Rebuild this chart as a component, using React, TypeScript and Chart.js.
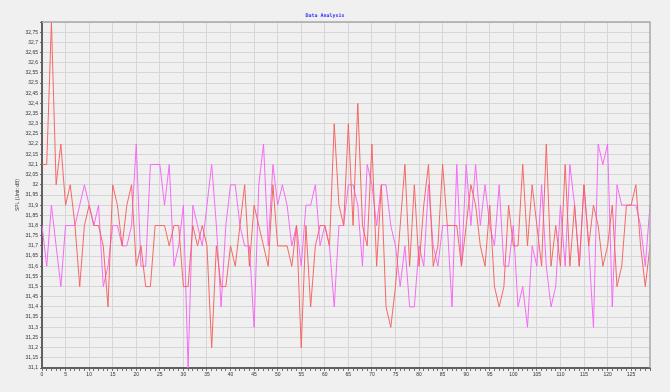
import React, { useEffect, useRef } from "react";
import { Chart, registerables } from "chart.js";

Chart.register(...registerables);

const TITLE = "Data Analysis";
const Y_TITLE = "SPL (Unit: dB)";
const Y_MIN = 31.1;
const Y_MAX = 32.8;
const Y_STEP = 0.05;

const redSeries = [
  32.1, 32.1, 32.8, 32.0, 32.2, 31.9, 32.0, 31.8, 31.5, 31.8,
  31.9, 31.8, 31.8, 31.7, 31.4, 32.0, 31.9, 31.7, 31.9, 32.0,
  31.6, 31.7, 31.5, 31.5, 31.8, 31.8, 31.8, 31.7, 31.8, 31.8,
  31.5, 31.5, 31.8, 31.7, 31.8, 31.7, 31.2, 31.7, 31.5, 31.5,
  31.7, 31.6, 31.8, 32.0, 31.6, 31.9, 31.8, 31.7, 31.6, 32.0,
  31.7, 31.7, 31.7, 31.6, 31.8, 31.2, 31.8, 31.4, 31.7, 31.8,
  31.8, 31.7, 32.3, 31.9, 31.8, 32.3, 31.8, 32.4, 31.8, 31.7,
  32.2, 31.6, 32.0, 31.4, 31.3, 31.5, 31.8, 32.1, 31.6, 32.0,
  31.6, 31.9, 32.1, 31.6, 31.7, 32.1, 31.8, 31.8, 31.8, 31.6,
  31.8, 32.0, 31.9, 31.7, 31.6, 31.9, 31.5, 31.4, 31.5, 31.9,
  31.7, 31.7, 32.1, 31.7, 32.0, 31.8, 31.6, 32.2, 31.6, 31.8,
  31.6, 32.1, 31.6, 31.9, 31.6, 32.0, 31.7, 31.9, 31.8, 31.6,
  31.7, 31.9, 31.5, 31.6, 31.9, 31.9, 32.0, 31.7, 31.5, 31.7,
];

const magentaSeries = [
  31.8, 31.6, 31.9, 31.7, 31.5, 31.8, 31.8, 31.8, 31.9, 32.0,
  31.9, 31.8, 31.9, 31.5, 31.6, 31.8, 31.8, 31.7, 31.7, 31.8,
  32.2, 31.6, 31.6, 32.1, 32.1, 32.1, 31.9, 32.1, 31.6, 31.7,
  31.9, 31.1, 31.9, 31.8, 31.7, 31.9, 32.1, 31.8, 31.4, 31.8,
  32.0, 32.0, 31.8, 31.7, 31.7, 31.3, 32.0, 32.2, 31.7, 32.1,
  31.9, 32.0, 31.9, 31.7, 31.8, 31.6, 31.9, 31.9, 32.0, 31.7,
  31.8, 31.7, 31.4, 31.8, 31.8, 32.0, 32.0, 31.9, 31.6, 32.1,
  32.0, 31.8, 32.0, 32.0, 31.8, 31.7, 31.5, 31.7, 31.4, 31.4,
  31.7, 31.6, 32.0, 31.7, 31.6, 31.8, 31.8, 31.4, 32.1, 31.6,
  32.1, 31.8, 32.1, 31.8, 32.0, 31.8, 31.7, 32.0, 31.6, 31.6,
  31.8, 31.4, 31.5, 31.3, 31.7, 31.6, 32.0, 31.6, 31.4, 31.5,
  31.9, 31.6, 32.1, 31.9, 31.6, 32.0, 31.7, 31.3, 32.2, 32.1,
  32.2, 31.4, 32.0, 31.9, 31.9, 31.9, 31.9, 31.8, 31.6, 31.9,
];

// sample index categories (0 .. n-1)
const sampleLabels = redSeries.map((_, i) => String(i));

const FONT = "'Liberation Sans', Arial, sans-serif";

const frameBorder = {
  id: "frameBorder",
  afterDraw(chart: any) {
    const { ctx, chartArea } = chart;
    ctx.save();
    ctx.strokeStyle = "#a8a8a8";
    ctx.lineWidth = 1.5;
    ctx.beginPath();
    ctx.moveTo(chartArea.left, chartArea.top);
    ctx.lineTo(chartArea.right, chartArea.top);
    ctx.lineTo(chartArea.right, chartArea.bottom);
    ctx.stroke();
    ctx.restore();
  },
};

export default function App() {
  const ref = useRef<HTMLCanvasElement | null>(null);

  useEffect(() => {
    document.body.style.margin = "0";
    document.body.style.background = "#f0f0f0";
    const canvas = ref.current;
    if (!canvas) return;
    const chart = new Chart(canvas, {
      type: "line",
      data: {
        labels: sampleLabels,
        datasets: [
          {
            label: "red",
            data: redSeries,
            borderColor: "rgba(246,96,96,0.95)",
            borderWidth: 1,
            pointRadius: 0,
            tension: 0,
            fill: false,
          },
          {
            label: "magenta",
            data: magentaSeries,
            borderColor: "rgba(245,100,245,0.95)",
            borderWidth: 1,
            pointRadius: 0,
            tension: 0,
            fill: false,
          },
        ],
      },
      options: {
        responsive: false,
        animation: false,
        layout: { padding: { left: 0, right: 20, top: 0, bottom: 0 } },
        plugins: {
          legend: { display: false },
          tooltip: { enabled: false },
          title: {
            display: true,
            text: TITLE,
            color: "#3030ff",
            font: { family: "'DejaVu Sans Mono', monospace", size: 5, weight: "bold" },
            padding: { top: 13, bottom: 3 },
          },
        },
        scales: {
          x: {
            type: "category",
            offset: false,
            afterFit: (s: any) => {
              s.height = 24;
            },
            border: { display: true, color: "#606060", width: 2 },
            grid: {
              color: (c: any) => (c.index % 5 === 0 ? "#d6d6d6" : "rgba(0,0,0,0)"),
              lineWidth: 1,
              tickColor: "#707070",
              tickLength: 3,
              drawTicks: true,
            },
            ticks: {
              autoSkip: false,
              maxRotation: 0,
              padding: 1,
              color: "#333",
              font: { family: FONT, size: 5 },
              callback: (_v: any, i: number) => (i % 5 === 0 ? sampleLabels[i] : ""),
            },
          },
          y: {
            type: "linear",
            min: Y_MIN,
            max: Y_MAX,
            afterFit: (s: any) => {
              s.width = 42;
            },
            border: { display: true, color: "#606060", width: 2 },
            grid: {
              color: "#d6d6d6",
              lineWidth: 1,
              tickColor: "#707070",
              tickLength: 2,
            },
            ticks: {
              stepSize: Y_STEP,
              autoSkip: false,
              padding: 2,
              color: "#333",
              font: { family: FONT, size: 5 },
              callback: (v: any) => {
                const r = Math.round(Number(v) * 100) / 100;
                if (r >= Y_MAX - 0.001) return "";
                return String(r).replace(".", ",");
              },
            },
            title: {
              display: true,
              text: Y_TITLE,
              color: "#333",
              font: { family: FONT, size: 5 },
              padding: { top: 15, bottom: 0 },
            },
          },
        },
      },
      plugins: [frameBorder],
    });
    return () => chart.destroy();
  }, []);

  return (
    <div style={{ width: 670, height: 392, background: "#f0f0f0" }}>
      <canvas ref={ref} width={670} height={392} style={{ display: "block" }} />
    </div>
  );
}
